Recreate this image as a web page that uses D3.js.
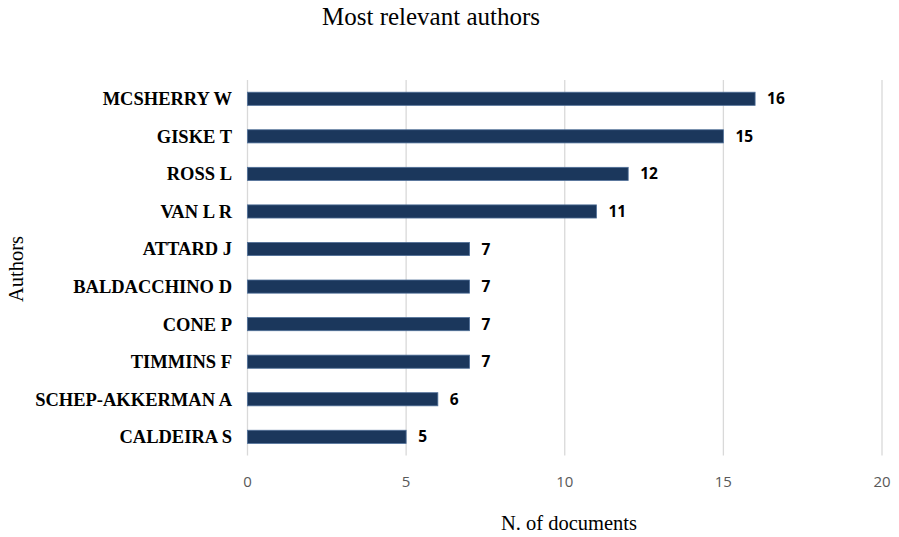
<!DOCTYPE html>
<html><head><meta charset="utf-8">
<script src="https://cdn.jsdelivr.net/npm/d3@7"></script>
<style>body{margin:0;background:#fff}</style>
</head><body>
<svg id="c" width="899" height="537"></svg>
<script>
const authors = ["MCSHERRY W","GISKE T","ROSS L","VAN L R","ATTARD J","BALDACCHINO D","CONE P","TIMMINS F","SCHEP-AKKERMAN A","CALDEIRA S"];
const documents = [16,15,12,11,7,7,7,7,6,5];
const xTicks = [0,5,10,15,20];

const svg = d3.select("#c");
const m = {l:247.5, r:882, t:80, b:455.6};
const x = d3.scaleLinear().domain([0,20]).range([m.l, m.r]);
const y = d3.scaleBand().domain(authors).range([m.t, m.b]).paddingInner(0.65).paddingOuter(0.325);

svg.append("g").selectAll("line").data(xTicks).join("line")
  .attr("x1", d=>x(d)).attr("x2", d=>x(d)).attr("y1", m.t).attr("y2", m.b)
  .attr("stroke", "#d9d9d9").attr("stroke-width", 1.3);

svg.append("g").selectAll("rect").data(authors).join("rect")
  .attr("x", x(0)).attr("y", d=>y(d))
  .attr("width", (d,i)=>x(documents[i])-x(0)).attr("height", y.bandwidth())
  .attr("fill", "#1b375c").attr("stroke", "#4f6f98").attr("stroke-width", 0.8);

svg.append("g").selectAll("text").data(authors).join("text")
  .attr("x", (d,i)=>x(documents[i])+12).attr("y", d=>y(d)+y.bandwidth()/2)
  .attr("dy", "0.36em")
  .attr("font-family", "'Open Sans', sans-serif").attr("font-weight", "bold").attr("font-size", 15.5)
  .attr("fill", "#000").text((d,i)=>documents[i]);

svg.append("g").selectAll("text").data(authors).join("text")
  .attr("x", 232).attr("y", d=>y(d)+y.bandwidth()/2).attr("dy", "0.35em")
  .attr("text-anchor", "end")
  .attr("font-family", "'Liberation Serif', 'Times New Roman', serif").attr("font-weight", "bold").attr("font-size", 18.5)
  .attr("fill", "#000").text(d=>d);

svg.append("g").selectAll("text").data(xTicks).join("text")
  .attr("x", d=>x(d)).attr("y", 486.5).attr("text-anchor", "middle")
  .attr("font-family", "'Open Sans', sans-serif").attr("font-size", 15)
  .attr("fill", "#595959").text(d=>d);

svg.append("text").attr("x", 431).attr("y", 25).attr("text-anchor", "middle")
  .attr("font-family", "'Liberation Serif', serif").attr("font-size", 25).text("Most relevant authors");

svg.append("text").attr("x", 569).attr("y", 530).attr("text-anchor", "middle")
  .attr("font-family", "'Liberation Serif', serif").attr("font-size", 20.5).text("N. of documents");

svg.append("text").attr("transform", "translate(23,269) rotate(-90)").attr("text-anchor", "middle")
  .attr("font-family", "'Liberation Serif', serif").attr("font-size", 20.5).text("Authors");
</script>
</body></html>
